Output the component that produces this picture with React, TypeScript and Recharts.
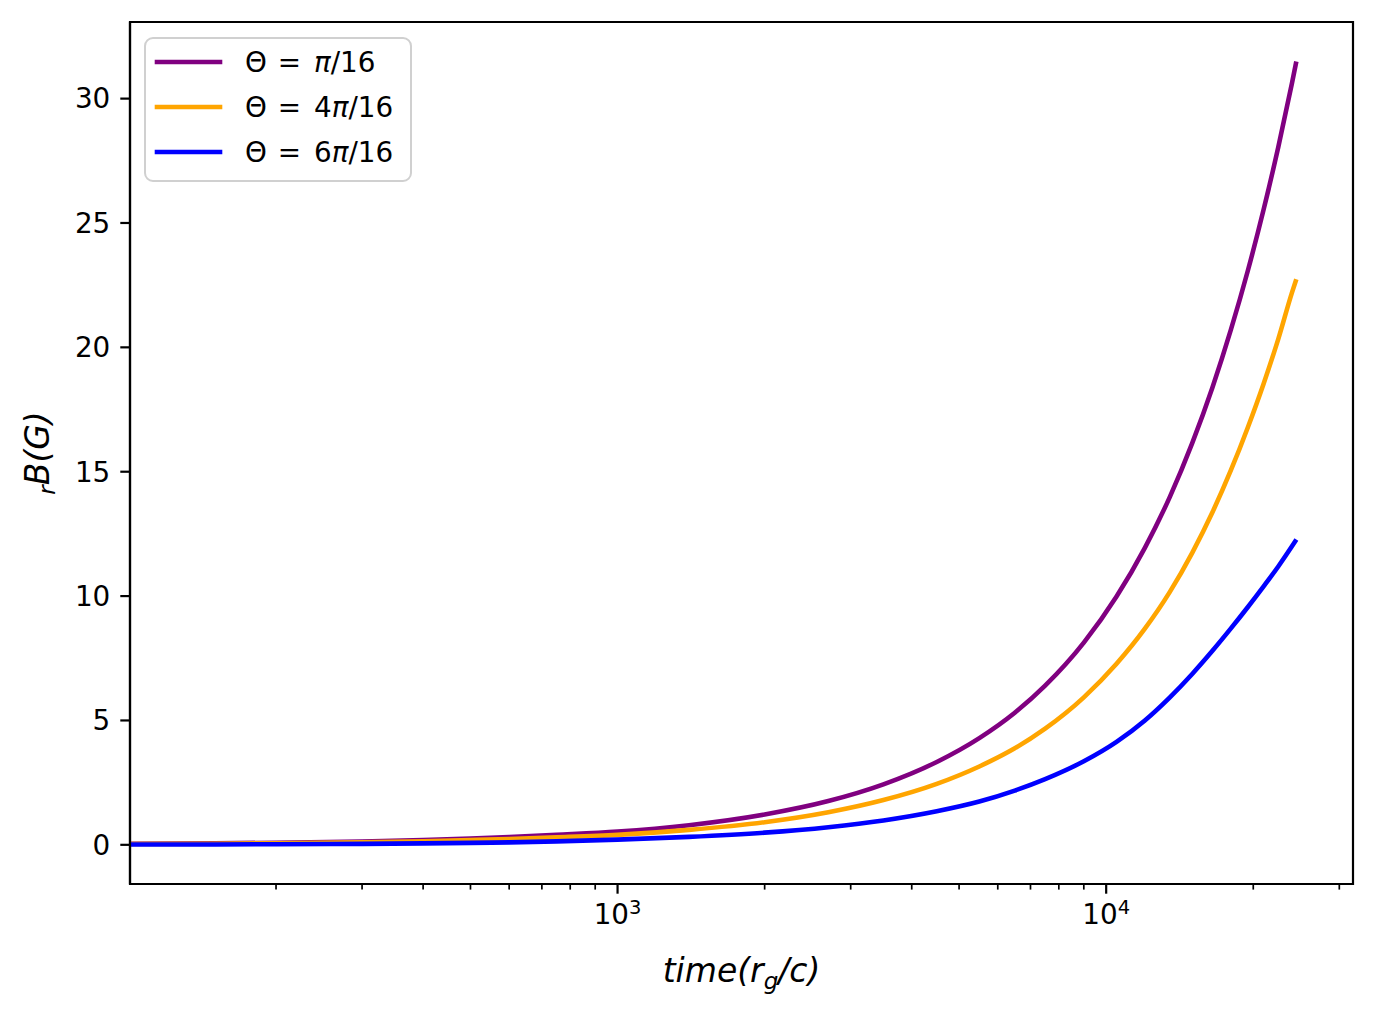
import { LineChart, Line, XAxis, YAxis, ReferenceArea } from "recharts"

// time in r_g/c
const times = [
  100, 150, 200, 300, 400, 500, 600, 750, 1000, 1400, 2000, 2700, 3500, 4500, 5500,
  6500, 7500, 9000, 10500, 12000, 13500, 15000, 16500, 18000, 19500, 21000, 22500, 24000, 24500,
]

// rB(G) for each polar angle
const thetaPi16 = [
  0.04, 0.06, 0.085, 0.135, 0.19, 0.25, 0.31, 0.4, 0.53, 0.79, 1.22, 1.76, 2.43, 3.33, 4.29,
  5.31, 6.4, 8.13, 9.98, 11.94, 13.99, 16.15, 18.39, 20.71, 23.09, 25.54, 28.04, 30.62, 31.49,
]
const theta4Pi16 = [
  0.03, 0.045, 0.065, 0.1, 0.145, 0.19, 0.235, 0.3, 0.4, 0.6, 0.91, 1.31, 1.8, 2.45, 3.15,
  3.88, 4.67, 5.93, 7.28, 8.69, 10.17, 11.74, 13.37, 15.06, 16.79, 18.54, 20.33, 22.2, 22.74,
]
const theta6Pi16 = [
  0.01, 0.015, 0.025, 0.04, 0.06, 0.08, 0.1, 0.14, 0.21, 0.32, 0.49, 0.71, 0.98, 1.35, 1.74,
  2.18, 2.64, 3.36, 4.14, 5.0, 5.93, 6.87, 7.8, 8.7, 9.56, 10.39, 11.19, 12.0, 12.27,
]

const xTicks = [
  200, 300, 400, 500, 600, 700, 800, 900, 1000,
  2000, 3000, 4000, 5000, 6000, 7000, 8000, 9000, 10000, 20000, 30000,
]
const yTicks = [0, 5, 10, 15, 20, 25, 30]
const xDomain = [100.5, 32000]
const yDomain = [-1.575, 33.08]

const series = [
  { key: "pi16", coef: "", color: "#800080" },
  { key: "pi4_16", coef: "4", color: "#FFA500" },
  { key: "pi6_16", coef: "6", color: "#0000FF" },
]

const data = times.map((t, i) => ({
  t,
  pi16: thetaPi16[i],
  pi4_16: theta4Pi16[i],
  pi6_16: theta6Pi16[i],
}))

const FONT = "DejaVu Sans, Verdana, sans-serif"

function LogTick(props: any) {
  const { x, y, payload } = props
  const e = Math.log10(payload.value)
  const major = Math.abs(e - Math.round(e)) < 1e-9
  return (
    <g>
      <line
        x1={x}
        x2={x}
        y1={y}
        y2={y + (major ? 9.7 : 5.6)}
        stroke="#000"
        strokeWidth={major ? 2.2 : 1.7}
      />
      {major && (
        <text x={x} y={y + 40} textAnchor="middle" fontFamily={FONT} fontSize={27.8} fill="#000">
          10
          <tspan dy={-10} fontSize={19.5}>
            {Math.round(e)}
          </tspan>
        </text>
      )}
    </g>
  )
}

function XLabel(props: any) {
  const vb = props.viewBox || { x: 130, y: 884, width: 1223 }
  const cx = vb.x + vb.width / 2
  return (
    <text x={cx} y={vb.y + 98} textAnchor="middle" fontFamily={FONT} fontSize={33} fontStyle="italic" fill="#000">
      time(r
      <tspan dy={7} fontSize={23}>
        g
      </tspan>
      <tspan dy={-7}>/c)</tspan>
    </text>
  )
}

function YLabel(props: any) {
  const vb = props.viewBox || { x: 0, y: 22, height: 862 }
  const cx = 49
  const cy = vb.y + vb.height / 2
  return (
    <text
      x={cx}
      y={cy}
      transform={`rotate(-90, ${cx}, ${cy})`}
      textAnchor="middle"
      fontFamily={FONT}
      fontSize={33}
      fontStyle="italic"
      fill="#000"
    >
      <tspan dy={6} fontSize={23}>
        r
      </tspan>
      <tspan dy={-6}>B(G)</tspan>
    </text>
  )
}

function ThetaLegend() {
  return (
    <svg width={1376} height={1011} style={{ position: "absolute", left: 0, top: 0, pointerEvents: "none" }}>
      <rect x={145} y={38} width={266} height={143} rx={8} fill="#fff" fillOpacity={0.8} stroke="#d0d0d0" strokeWidth={2} />
      {series.map((s, i) => {
        const cy = 62 + i * 45
        return (
          <g key={s.key}>
            <line x1={157} x2={220} y1={cy} y2={cy} stroke={s.color} strokeWidth={4.6} strokeLinecap="square" />
            <text x={245} y={cy + 10} fontFamily={FONT} fontSize={27.8} fill="#000">
              Θ<tspan dx={10.8}>=</tspan>
              <tspan dx={13}>
                {s.coef}
                <tspan fontStyle="italic">π</tspan>
              </tspan>
              /16
            </text>
          </g>
        )
      })}
    </svg>
  )
}

export default function App() {
  return (
    <div style={{ position: "absolute", left: 0, top: 0, width: 1376, height: 1011, background: "#fff" }}>
      <LineChart width={1376} height={1011} data={data} margin={{ top: 22, right: 23, left: 0, bottom: 0 }}>
        <XAxis
          dataKey="t"
          type="number"
          scale="log"
          domain={xDomain}
          allowDataOverflow
          ticks={xTicks}
          interval={0}
          tick={<LogTick />}
          tickLine={false}
          tickSize={0}
          tickMargin={0}
          height={127}
          axisLine={{ stroke: "#000", strokeWidth: 2.2 }}
          label={<XLabel />}
        />
        <YAxis
          type="number"
          domain={yDomain}
          allowDataOverflow
          ticks={yTicks}
          interval={0}
          width={130}
          stroke="#000"
          tickSize={9.7}
          tickMargin={10}
          tickLine={{ stroke: "#000", strokeWidth: 2.2 }}
          axisLine={{ stroke: "#000", strokeWidth: 2.2 }}
          tick={{ fill: "#000", fontSize: 27.8, fontFamily: FONT }}
          label={<YLabel />}
        />
        {series.map((s) => (
          <Line
            key={s.key}
            type="monotone"
            dataKey={s.key}
            stroke={s.color}
            strokeWidth={4.6}
            dot={false}
            activeDot={false}
            isAnimationActive={false}
          />
        ))}
        <ReferenceArea
          x1={xDomain[0]}
          x2={xDomain[1]}
          y1={yDomain[0]}
          y2={yDomain[1]}
          ifOverflow="visible"
          fill="none"
          fillOpacity={0}
          stroke="#000"
          strokeWidth={2.2}
        />
      </LineChart>
      <ThetaLegend />
    </div>
  )
}
